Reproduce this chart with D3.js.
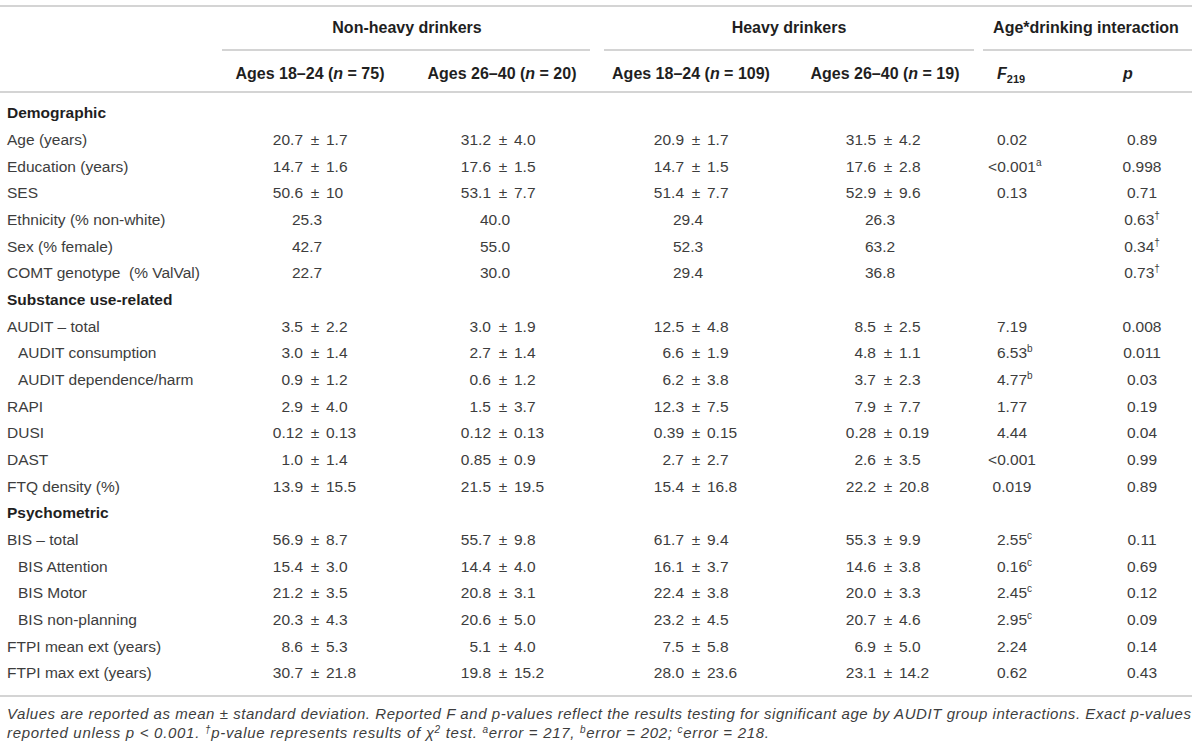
<!DOCTYPE html>
<html>
<head>
<meta charset="utf-8">
<script src="https://cdn.jsdelivr.net/npm/d3@7"></script>
<style>
  html, body { margin: 0; padding: 0; background: #fff; }
  svg { display: block; }
  text { font-family: "Liberation Sans", Arial, Helvetica, sans-serif; }
</style>
</head>
<body>
<svg id="chart" width="1200" height="744"></svg>
<script>
// ---------- DATA ----------
const rowLabels = [
  "Demographic", "Age (years)", "Education (years)", "SES", "Ethnicity (% non-white)",
  "Sex (% female)", "COMT genotype  (% ValVal)", "Substance use-related", "AUDIT – total",
  "AUDIT consumption", "AUDIT dependence/harm", "RAPI", "DUSI", "DAST", "FTQ density (%)",
  "Psychometric", "BIS – total", "BIS Attention", "BIS Motor", "BIS non-planning",
  "FTPI mean ext (years)", "FTPI max ext (years)"
];
const rowKinds = [
  "section", "item", "item", "item", "item", "item", "item", "section", "item",
  "sub", "sub", "item", "item", "item", "item",
  "section", "item", "sub", "sub", "sub", "item", "item"
];
const nonHeavy1824 = ["", "20.7 ± 1.7", "14.7 ± 1.6", "50.6 ± 10", "25.3", "42.7", "22.7", "",
  "3.5 ± 2.2", "3.0 ± 1.4", "0.9 ± 1.2", "2.9 ± 4.0", "0.12 ± 0.13", "1.0 ± 1.4", "13.9 ± 15.5", "",
  "56.9 ± 8.7", "15.4 ± 3.0", "21.2 ± 3.5", "20.3 ± 4.3", "8.6 ± 5.3", "30.7 ± 21.8"];
const nonHeavy2640 = ["", "31.2 ± 4.0", "17.6 ± 1.5", "53.1 ± 7.7", "40.0", "55.0", "30.0", "",
  "3.0 ± 1.9", "2.7 ± 1.4", "0.6 ± 1.2", "1.5 ± 3.7", "0.12 ± 0.13", "0.85 ± 0.9", "21.5 ± 19.5", "",
  "55.7 ± 9.8", "14.4 ± 4.0", "20.8 ± 3.1", "20.6 ± 5.0", "5.1 ± 4.0", "19.8 ± 15.2"];
const heavy1824 = ["", "20.9 ± 1.7", "14.7 ± 1.5", "51.4 ± 7.7", "29.4", "52.3", "29.4", "",
  "12.5 ± 4.8", "6.6 ± 1.9", "6.2 ± 3.8", "12.3 ± 7.5", "0.39 ± 0.15", "2.7 ± 2.7", "15.4 ± 16.8", "",
  "61.7 ± 9.4", "16.1 ± 3.7", "22.4 ± 3.8", "23.2 ± 4.5", "7.5 ± 5.8", "28.0 ± 23.6"];
const heavy2640 = ["", "31.5 ± 4.2", "17.6 ± 2.8", "52.9 ± 9.6", "26.3", "63.2", "36.8", "",
  "8.5 ± 2.5", "4.8 ± 1.1", "3.7 ± 2.3", "7.9 ± 7.7", "0.28 ± 0.19", "2.6 ± 3.5", "22.2 ± 20.8", "",
  "55.3 ± 9.9", "14.6 ± 3.8", "20.0 ± 3.3", "20.7 ± 4.6", "6.9 ± 5.0", "23.1 ± 14.2"];
const fValues = ["", "0.02", "<0.001^a", "0.13", "", "", "", "",
  "7.19", "6.53^b", "4.77^b", "1.77", "4.44", "<0.001", "0.019", "",
  "2.55^c", "0.16^c", "2.45^c", "2.95^c", "2.24", "0.62"];
const pValues = ["", "0.89", "0.998", "0.71", "0.63^†", "0.34^†", "0.73^†", "",
  "0.008", "0.011", "0.03", "0.19", "0.04", "0.99", "0.89", "",
  "0.11", "0.69", "0.12", "0.09", "0.14", "0.43"];

const groupHeaders = ["Non-heavy drinkers", "Heavy drinkers", "Age*drinking interaction"];
const ageGroups = ["Ages 18–24", "Ages 26–40", "Ages 18–24", "Ages 26–40"];
const groupNs = [75, 20, 109, 19];

// ---------- LAYOUT ----------
const svg = d3.select("#chart");
const W = 1200;
const tableRight = 1192;
const inkBold = "#1f1f1f";
const ink = "#3d3d3d";
const rule = "#c6c6c6";
const fs = 15.5;

const colKeys = ["nh1", "nh2", "h1", "h2", "f", "p"];
const colData = [nonHeavy1824, nonHeavy2640, heavy1824, heavy2640, fValues, pValues];
const xCol = d3.scaleOrdinal().domain(colKeys).range([315, 503, 696, 888, 1012, 1142]);
const headerCenters = [310, 502, 691, 885];
const yRow = d3.scalePoint().domain(d3.range(rowLabels.length)).range([113, 673]);

svg.append("rect").attr("width", W).attr("height", 744).attr("fill", "#fff");

// rules
const hline = (y, x1, x2) => svg.append("line")
  .attr("x1", x1).attr("x2", x2).attr("y1", y).attr("y2", y)
  .attr("stroke", rule).attr("stroke-width", 1.6);
hline(6, 0, tableRight);
hline(50, 222, 590);
hline(50, 604, 974);
hline(50, 983, tableRight);
hline(92, 0, tableRight);
hline(696, 0, tableRight);

// group headers
const groupCenters = [407, 789, 1086];
svg.selectAll("text.group").data(groupHeaders).enter().append("text")
  .attr("class", "group")
  .attr("x", (d, i) => groupCenters[i]).attr("y", 27).attr("dy", "0.35em")
  .attr("text-anchor", "middle").attr("font-size", 16).attr("font-weight", "bold")
  .attr("fill", inkBold).text(d => d);

// age headers
ageGroups.forEach((g, i) => {
  const t = svg.append("text")
    .attr("x", headerCenters[i]).attr("y", 73).attr("dy", "0.35em")
    .attr("text-anchor", "middle").attr("font-size", 16).attr("font-weight", "bold")
    .attr("fill", inkBold);
  t.append("tspan").text(g + " (");
  t.append("tspan").attr("font-style", "italic").text("n");
  t.append("tspan").text(" = " + groupNs[i] + ")");
});
// F219 and p headers
{
  const t = svg.append("text").attr("x", 997).attr("y", 73).attr("dy", "0.35em")
    .attr("font-size", 16).attr("font-weight", "bold").attr("fill", inkBold);
  t.append("tspan").attr("font-style", "italic").text("F");
  t.append("tspan").attr("font-size", 11).attr("dy", 4).text("219");
  svg.append("text").attr("x", 1128).attr("y", 73).attr("dy", "0.35em")
    .attr("text-anchor", "middle").attr("font-size", 16).attr("font-weight", "bold")
    .attr("font-style", "italic").attr("fill", inkBold).text("p");
}

// row labels
svg.selectAll("text.rowlabel").data(rowLabels).enter().append("text")
  .attr("class", "rowlabel")
  .attr("x", (d, i) => rowKinds[i] === "sub" ? 18 : 7)
  .attr("y", (d, i) => yRow(i)).attr("dy", "0.35em")
  .attr("font-size", fs)
  .attr("font-weight", (d, i) => rowKinds[i] === "section" ? "bold" : "normal")
  .attr("fill", (d, i) => rowKinds[i] === "section" ? inkBold : ink)
  .style("white-space", "pre")
  .text(d => d);

// data cells
colKeys.forEach((key, ci) => {
  const values = colData[ci];
  values.forEach((v, ri) => {
    if (!v) return;
    const [main, sup] = v.split("^");
    const anchor = xCol(key);
    const t = svg.append("text")
      .attr("y", yRow(ri)).attr("dy", "0.35em")
      .attr("font-size", fs).attr("fill", ink);
    if (main.includes("±")) {
      const [mean, sd] = main.split("±").map(s => s.trim());
      t.append("tspan").attr("x", anchor - 12).attr("text-anchor", "end").text(mean);
      t.append("tspan").attr("x", anchor).attr("text-anchor", "middle").text("±");
      t.append("tspan").attr("x", anchor + 11).attr("text-anchor", "start").text(sd);
      return;
    }
    const center = ci < 4 ? anchor - 8 : anchor;
    t.attr("x", 0);
    t.append("tspan").text(main);
    const node = t.node();
    let x = center - node.getComputedTextLength() / 2;
    if (sup) {
      t.append("tspan").attr("font-size", 10).attr("dy", -6).text(sup);
      if (key === "p") x = center - node.getComputedTextLength() / 2;
    }
    t.attr("x", x);
  });
});

// footnotes
{
  const f1 = svg.append("text").attr("x", 7).attr("y", 714).attr("dy", "0.35em")
    .attr("font-size", 15).attr("font-style", "italic").attr("fill", ink)
    .attr("textLength", 1184).attr("lengthAdjust", "spacing");
  f1.text("Values are reported as mean ± standard deviation. Reported F and p-values reflect the results testing for significant age by AUDIT group interactions. Exact p-values");

  const f2 = svg.append("text").attr("x", 7).attr("y", 733).attr("dy", "0.35em")
    .attr("font-size", 15).attr("font-style", "italic").attr("fill", ink)
    .attr("textLength", 762).attr("lengthAdjust", "spacing")
    .style("white-space", "pre");
  const parts = [
    ["reported unless p < 0.001. ", 0],
    ["†", 1], ["p-value represents results of χ", 0], ["2", 1], [" test. ", 0],
    ["a", 1], ["error = 217, ", 0], ["b", 1], ["error = 202; ", 0], ["c", 1], ["error = 218.", 0]
  ];
  let raised = false;
  parts.forEach(([s, up]) => {
    const ts = f2.append("tspan").text(s);
    if (up && !raised) { ts.attr("dy", -5).attr("font-size", 10); raised = true; }
    else if (up) { ts.attr("font-size", 10); }
    else if (raised) { ts.attr("dy", 5); raised = false; }
  });
}
</script>
</body>
</html>
